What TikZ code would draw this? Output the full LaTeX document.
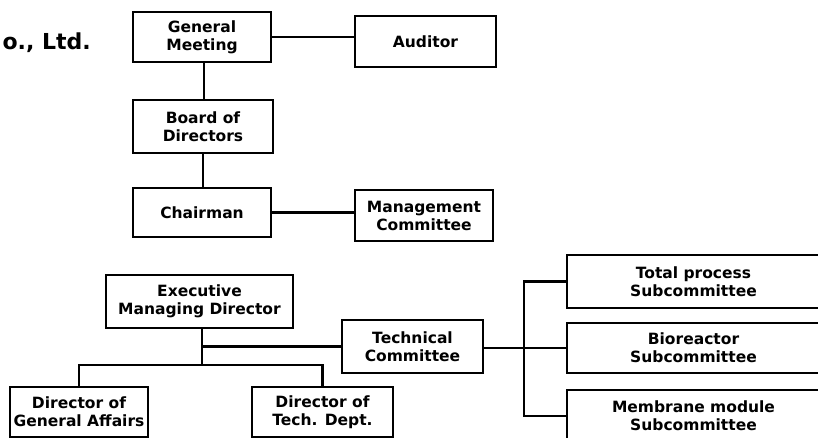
\documentclass[tikz,border=0pt]{standalone}
\usepackage{fontspec}
\setmainfont{DejaVu Sans}
\usetikzlibrary{positioning, calc}

\begin{document}
\begin{tikzpicture}[x=1pt, y=-1pt,
  box/.style={draw, line width=2.2pt, align=center, inner sep=0pt,
    font=\fontsize{15.5}{18}\selectfont\bfseries},
  link/.style={line width=2.2pt}]
\useasboundingbox (0,0) rectangle (818,438);
\clip (0,0) rectangle (818,438);
% Title, cut at the left edge
\node[font=\fontsize{22}{26}\selectfont\bfseries, anchor=west] (title) at (-1,43) {o., Ltd.};
% Top of the chart
\node[box, minimum width=138, minimum height=50] (meeting) at (202,37) {General\\Meeting};
\node[box, minimum width=141, minimum height=51] (auditor) at (425.5,41.5) {Auditor};
\node[box, minimum width=140, minimum height=53] (board) at (203,126.5) {Board of\\Directors};
\node[box, minimum width=138, minimum height=49] (chairman) at (202,212.5) {Chairman};
\node[box, minimum width=138, minimum height=51] (mgmt) at (424,215.5) {Management\\Committee};
\node[box, minimum width=187, minimum height=53] (exec) at (199.5,301.5) {Executive\\Managing Director};
% Lower row
\node[box, minimum width=141, minimum height=53] (tech) at (412.5,346.5) {Technical\\Committee};
\node[box, minimum width=138, minimum height=50] (genaff) at (79,412) {Director of\\General Affairs};
\node[box, minimum width=141, minimum height=50] (techdept) at (322.5,412) {Director of\\Tech. Dept.};
% Subcommittees (run off the right edge)
\node[box, minimum width=253, minimum height=53] (total) at (693.5,281.5) {Total process\\Subcommittee};
\node[box, minimum width=253, minimum height=50] (bio) at (693.5,348) {Bioreactor\\Subcommittee};
\node[box, minimum width=253, minimum height=52] (membrane) at (693.5,416) {Membrane module\\Subcommittee};
% Connectors
\coordinate (trunk) at (202,365);
\coordinate (fork) at (524,348);
\draw[link] (meeting.east) -- (auditor.west |- meeting.east);
\draw[link] (meeting.south -| 204,0) -- (board.north -| 204,0);
\draw[link] (board.south -| 203,0) -- (chairman.north -| 203,0);
\draw[link] (chairman.east) -- (mgmt.west |- chairman.east);
\draw[link] (exec.south -| trunk) -- (trunk);
\draw[link] (trunk |- tech.west) -- (tech.west);
\draw[link] (genaff.north) |- (trunk) -| (techdept.north);
\draw[link] (tech.east |- fork) -- (fork);
\draw[link] (total.west) -| (fork |- total.west) |- (membrane.west);
\draw[link] (fork) -- (bio.west |- fork);
\end{tikzpicture}
\end{document}
